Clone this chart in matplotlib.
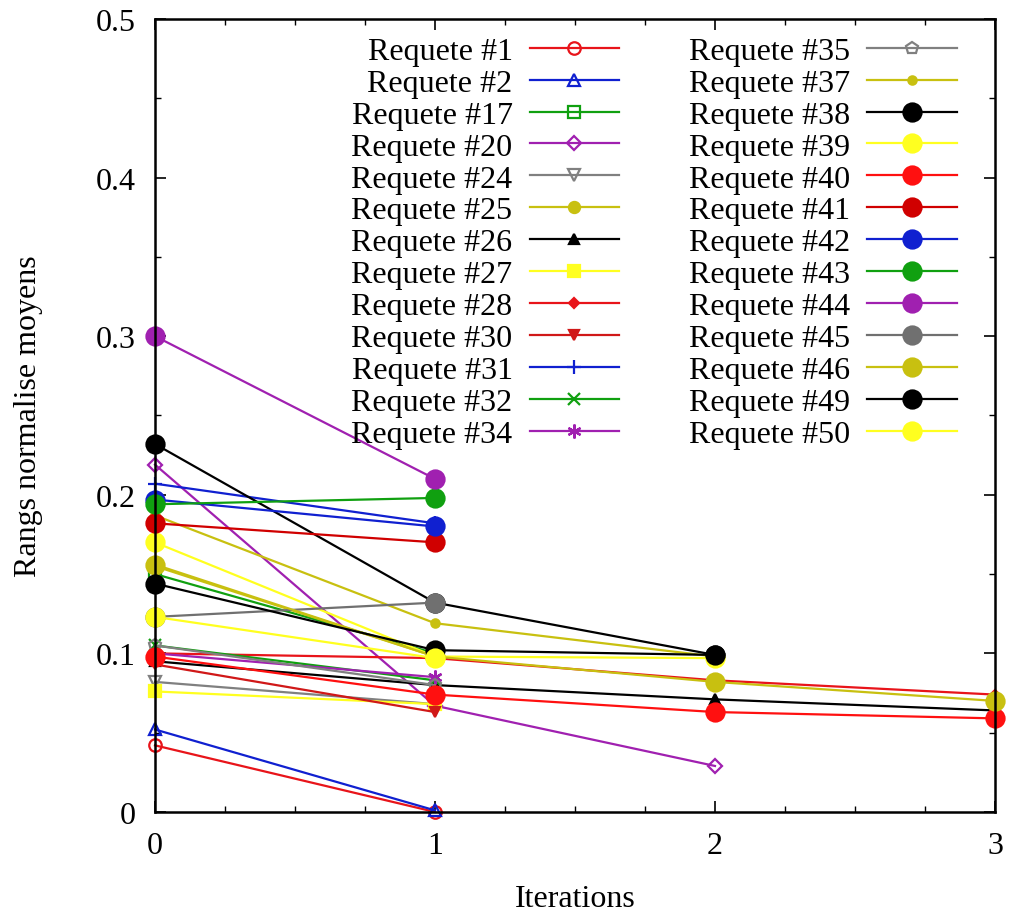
import matplotlib
matplotlib.use("Agg")
import matplotlib.pyplot as plt

plt.rcParams['font.family'] = ['Liberation Serif', 'DejaVu Serif']

# labels of the requests, and the mean normalised rank per iteration
labels = ["Requete #1", "Requete #2", "Requete #17", "Requete #20", "Requete #24",
          "Requete #25", "Requete #26", "Requete #27", "Requete #28", "Requete #30",
          "Requete #31", "Requete #32", "Requete #34", "Requete #35", "Requete #37",
          "Requete #38", "Requete #39", "Requete #40", "Requete #41", "Requete #42",
          "Requete #43", "Requete #44", "Requete #45", "Requete #46", "Requete #49",
          "Requete #50"]

values = [
    [0.042, 0.000],
    [0.052, 0.001],
    [0.150, 0.100],
    [0.219, 0.067, 0.029],
    [0.082, 0.068],
    [0.155, 0.098],
    [0.095, 0.080, 0.071, 0.064],
    [0.076, 0.068],
    [0.100, 0.097, 0.083, 0.074],
    [0.093, 0.063],
    [0.207, 0.182],
    [0.105, 0.083],
    [0.100, 0.085],
    [0.105, 0.080],
    [0.187, 0.119, 0.098],
    [0.232, 0.132, 0.099],
    [0.170, 0.098, 0.097],
    [0.098, 0.074, 0.063, 0.059],
    [0.182, 0.170],
    [0.197, 0.180],
    [0.194, 0.198],
    [0.300, 0.210],
    [0.123, 0.132],
    [0.156, 0.098, 0.082, 0.070],
    [0.144, 0.102, 0.099],
    [0.123, 0.097],
]

RED, BLUE, GREEN, PURP = "#e8141a", "#1020d0", "#10a010", "#a020b0"
GRAY, OLIVE, BLACK, YEL = "#808080", "#c8c010", "#000000", "#ffff20"

colors = [RED, BLUE, GREEN, PURP, GRAY, OLIVE, BLACK, YEL, RED, "#d01818",
          BLUE, GREEN, PURP, GRAY, OLIVE, BLACK, YEL, "#ff1010", "#d00000", BLUE,
          GREEN, PURP, "#707070", OLIVE, BLACK, YEL]

# (marker, size, filled)
styles = [("o", 9, False), ("^", 9, False), ("s", 9, False), ("D", 7, False),
          ("v", 9, False), ("o", 8, True), ("^", 7, True), ("s", 8, True),
          ("D", 5, True), ("v", 7, True), ("+", 10, True), ("x", 9, True),
          ((6, 2, 0), 10, True), ("p", 9, False), ("o", 6, True),
          ("o", 13, True), ("o", 13, True), ("o", 13, True), ("o", 13, True),
          ("o", 13, True), ("o", 13, True), ("o", 13, True), ("o", 13, True),
          ("o", 13, True), ("o", 13, True), ("o", 13, True)]

fig = plt.figure(figsize=(10.09, 9.12), dpi=100)
ax = fig.add_axes([0.1536, 0.1086, 0.8325, 0.8695])

for lab, v, c, (m, ms, filled) in zip(labels, values, colors, styles):
    ax.plot(range(len(v)), v, color=c, lw=1.6, marker=m, ms=ms,
            mfc=c if filled else "none", mec=c, mew=1.6, label=lab,
            clip_on=False)

ax.set_xlim(0, 3)
ax.set_ylim(0, 0.5)
ax.set_xticks([0, 1, 2, 3])
ax.set_xticklabels(["0", "1", "2", "3"])
ax.set_yticks([0, 0.1, 0.2, 0.3, 0.4, 0.5])
ax.set_yticklabels(["0", "0.1", "0.2", "0.3", "0.4", "0.5"])
ax.set_xticks([0.25 * i for i in range(13)], minor=True)
ax.set_yticks([0.05 * i for i in range(11)], minor=True)
ax.tick_params(which="both", direction="in", top=True, right=True, labelsize=23)
ax.tick_params(axis="x", pad=14)
ax.tick_params(axis="y", pad=14)
ax.tick_params(which="major", length=8, width=1.2)
ax.tick_params(which="minor", length=4, width=1.0)
for s in ax.spines.values():
    s.set_linewidth(1.8)

ax.set_xlabel("Iterations", fontsize=23, labelpad=17)
ax.set_ylabel("Rangs normalise moyens", fontsize=23, labelpad=38)

ax.legend(loc="upper right", bbox_to_anchor=(0.9735, 0.998), ncol=2,
          frameon=False, markerfirst=False, fontsize=23, handlelength=2.8,
          handletextpad=0.53, columnspacing=2.2, labelspacing=0.08, borderpad=0)

fig.savefig("out.png", dpi=100)
